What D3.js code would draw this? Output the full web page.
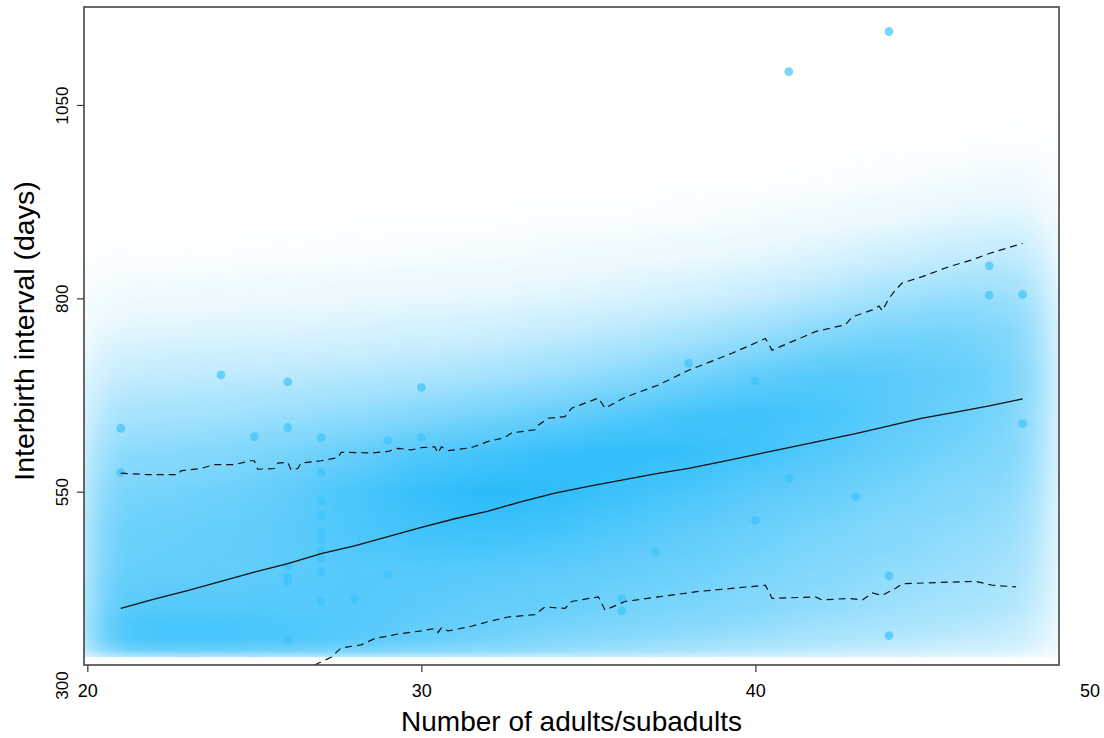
<!DOCTYPE html>
<html>
<head>
<meta charset="utf-8">
<script src="https://d3js.org/d3.v7.min.js"></script>
<style>
    body { margin: 0; background: #fff; }
    text { font-family: "Liberation Sans", Arial, Helvetica, sans-serif; fill: #000; }
</style>
</head>
<body>
<div id="viz"></div>
<script>
// observed interbirth intervals
var pointsX = [21, 21, 24, 25, 26, 26, 26, 26, 26, 26,
    27, 27, 27, 27, 27, 27, 27, 27, 27, 27,
    28, 29, 29, 30, 30, 36, 36, 37, 37, 38, 38, 39,
    40, 40, 40, 41, 41, 43, 44, 44, 44, 47, 47, 48, 48];
var pointsY = [632, 575, 701, 621, 692, 633, 454, 440, 434, 358,
    620, 575, 538, 519, 498, 487, 474, 463, 447, 408,
    411, 616, 443, 685, 620, 412, 396, 585, 472, 716, 629, 616,
    693, 588, 513, 1093, 567, 544, 1145, 441, 364, 842, 804, 805, 638];

// posterior mean prediction
var meanX = [21, 22, 23, 24, 25, 26, 27, 28, 29, 30, 31, 32, 33, 34,
    35, 36, 37, 38, 39, 40, 41, 42, 43, 44, 45, 46, 47, 48];
var meanY = [399, 411, 422, 434, 446, 457, 470, 480, 492, 504, 515, 525, 537, 548,
    557, 565, 573, 580, 589, 598, 607, 616, 625, 635, 645, 653, 661, 670];

// upper quantile (dashed)
var upperX = [21.0, 21.8, 22.7, 22.8, 23.4, 23.8, 24.4, 24.9, 25.0, 25.1, 25.6, 25.7, 26.0, 26.1,
    26.3, 26.4, 27.0, 27.5, 27.6, 28.5, 29.0, 29.3, 29.7, 30.0, 30.4, 30.5, 30.6, 30.8,
    31.5, 32.0, 32.5, 32.7, 33.4, 33.5, 33.8, 34.3, 34.5, 35.3, 35.5, 36.1, 37.1, 38.0,
    39.3, 40.3, 40.5, 41.8, 42.7, 42.9, 43.5, 43.7, 43.8, 44.0, 44.2, 44.4, 45.0, 45.8,
    46.5, 47.0, 48.0];
var upperY = [574, 572, 572, 577, 580, 585, 585, 590, 590, 579, 580, 587, 588, 578,
    580, 587, 590, 594, 601, 600, 602, 606, 604, 607, 608, 600, 608, 603,
    607, 615, 620, 626, 630, 636, 645, 647, 658, 671, 658, 672, 688, 707,
    729, 748, 733, 757, 766, 776, 785, 790, 784, 800, 811, 820, 828, 841,
    850, 858, 871];

// lower quantile (dashed)
var lowerX = [26.8, 27.3, 27.6, 28.2, 28.6, 29.3, 30.0, 30.4, 30.5, 30.6, 30.8, 31.5, 32.0,
    32.6, 33.4, 33.7, 34.3, 34.5, 35.3, 35.5, 36.1, 37.1, 38.3, 39.3, 40.3, 40.5,
    41.8, 42.0, 42.8, 43.2, 43.5, 43.8, 44.2, 44.4, 45.8, 46.6, 47.1, 47.8];
var lowerY = [326, 336, 348, 352, 360, 366, 370, 373, 368, 374, 370, 376, 382,
    388, 391, 401, 399, 408, 414, 397, 408, 414, 421, 425, 429, 412,
    414, 410, 412, 410, 419, 416, 425, 431, 433, 434, 429, 427];

// predictive density shade: one column per x, intensity at each level
var shadeX = [20, 22, 24, 26, 28, 30, 32, 34, 36, 38, 40, 42, 44, 46, 48];
var shadeLevels = [336, 345, 360, 380, 400, 450, 500, 550, 600, 650, 700, 750, 800, 850, 900, 950, 1000, 1050, 1100];
var shadeDensity = [
    [0.30, 0.60, 0.76, 0.78, 0.75, 0.70, 0.68, 0.62, 0.52, 0.40, 0.27, 0.14, 0.06, 0.02, 0, 0, 0, 0, 0],
    [0.35, 0.70, 0.86, 0.86, 0.80, 0.72, 0.70, 0.65, 0.55, 0.42, 0.29, 0.16, 0.07, 0.02, 0, 0, 0, 0, 0],
    [0.35, 0.70, 0.86, 0.86, 0.80, 0.74, 0.72, 0.68, 0.58, 0.44, 0.30, 0.17, 0.08, 0.02, 0, 0, 0, 0, 0],
    [0.35, 0.68, 0.83, 0.83, 0.80, 0.77, 0.77, 0.75, 0.64, 0.48, 0.32, 0.18, 0.08, 0.03, 0, 0, 0, 0, 0],
    [0.33, 0.64, 0.78, 0.80, 0.80, 0.80, 0.84, 0.85, 0.72, 0.52, 0.35, 0.20, 0.10, 0.03, 0.01, 0, 0, 0, 0],
    [0.30, 0.60, 0.72, 0.75, 0.77, 0.80, 0.90, 0.95, 0.82, 0.58, 0.38, 0.22, 0.11, 0.04, 0.01, 0, 0, 0, 0],
    [0.28, 0.55, 0.66, 0.70, 0.73, 0.79, 0.92, 1.00, 0.88, 0.65, 0.42, 0.25, 0.12, 0.05, 0.01, 0, 0, 0, 0],
    [0.26, 0.50, 0.60, 0.66, 0.70, 0.77, 0.88, 0.98, 0.95, 0.72, 0.48, 0.30, 0.15, 0.06, 0.02, 0, 0, 0, 0],
    [0.24, 0.45, 0.55, 0.62, 0.66, 0.73, 0.82, 0.92, 0.98, 0.80, 0.55, 0.35, 0.18, 0.08, 0.02, 0, 0, 0, 0],
    [0.22, 0.40, 0.50, 0.57, 0.62, 0.69, 0.76, 0.85, 0.95, 0.88, 0.65, 0.42, 0.22, 0.10, 0.03, 0.01, 0, 0, 0],
    [0.20, 0.35, 0.45, 0.52, 0.57, 0.64, 0.70, 0.78, 0.88, 0.90, 0.75, 0.50, 0.28, 0.13, 0.05, 0.01, 0, 0, 0],
    [0.17, 0.30, 0.40, 0.46, 0.51, 0.58, 0.64, 0.72, 0.80, 0.86, 0.80, 0.60, 0.36, 0.18, 0.07, 0.02, 0, 0, 0],
    [0.14, 0.26, 0.35, 0.41, 0.46, 0.53, 0.58, 0.65, 0.72, 0.78, 0.78, 0.66, 0.45, 0.25, 0.10, 0.03, 0.01, 0, 0],
    [0.12, 0.22, 0.30, 0.36, 0.41, 0.48, 0.53, 0.58, 0.65, 0.70, 0.72, 0.66, 0.50, 0.30, 0.14, 0.05, 0.01, 0, 0],
    [0.10, 0.18, 0.25, 0.30, 0.35, 0.42, 0.47, 0.52, 0.57, 0.60, 0.62, 0.58, 0.48, 0.32, 0.17, 0.07, 0.02, 0, 0]
];

var xTicks = [20, 30, 40, 50];
var yTicks = [300, 550, 800, 1050];

// set the dimensions and margins of the graph
var margin = { top: 7, right: 45, bottom: 73, left: 84 },
    width = 1104 - margin.left - margin.right,
    height = 738 - margin.top - margin.bottom;

var svg = d3.select("#viz")
    .append("svg")
    .attr("width", 1104)
    .attr("height", 738);

var g = svg.append("g")
    .attr("transform", "translate(" + margin.left + "," + margin.top + ")");

var x = d3.scaleLinear().domain([19.9, 49.09]).range([0, width]);
var y = d3.scaleLinear().domain([325.9, 1176.7]).range([height, 0]);

var defs = svg.append("defs");

defs.append("clipPath")
    .attr("id", "plotclip")
    .append("rect")
    .attr("width", width)
    .attr("height", height);

// horizontal smoothing between shade columns
var blur = defs.append("filter")
    .attr("id", "hblur")
    .attr("filterUnits", "userSpaceOnUse")
    .attr("x", -100).attr("y", -50)
    .attr("width", width + 200).attr("height", height + 100);
blur.append("feGaussianBlur").attr("stdDeviation", "22 0");

var lo = shadeLevels[0], hi = shadeLevels[shadeLevels.length - 1];

// one vertical gradient per column
shadeX.forEach(function (cx, i) {
    var grad = defs.append("linearGradient")
        .attr("id", "shade" + i)
        .attr("gradientUnits", "userSpaceOnUse")
        .attr("x1", 0).attr("x2", 0)
        .attr("y1", y(lo)).attr("y2", y(hi));
    grad.selectAll("stop")
        .data(shadeLevels)
        .enter()
        .append("stop")
        .attr("offset", function (d) { return (d - lo) / (hi - lo); })
        .attr("stop-color", "#2bbcfa")
        .attr("stop-opacity", function (d, j) { return shadeDensity[i][j]; });
});

var plot = g.append("g").attr("clip-path", "url(#plotclip)");

// Draw the shade
plot.append("g")
    .attr("filter", "url(#hblur)")
    .selectAll("rect")
    .data(shadeX)
    .enter()
    .append("rect")
    .attr("x", function (d, i) { return x(i === 0 ? 19.9 : (shadeX[i - 1] + d) / 2); })
    .attr("width", function (d, i) {
        var a = i === 0 ? 19.9 : (shadeX[i - 1] + d) / 2;
        var b = i === shadeX.length - 1 ? 48.8 : (shadeX[i + 1] + d) / 2;
        return x(b) - x(a) + 0.5;
    })
    .attr("y", y(hi))
    .attr("height", y(lo) - y(hi))
    .attr("fill", function (d, i) { return "url(#shade" + i + ")"; });

// Add the points
plot.selectAll("circle")
    .data(pointsX)
    .enter()
    .append("circle")
    .attr("cx", function (d) { return x(d); })
    .attr("cy", function (d, i) { return y(pointsY[i]); })
    .attr("r", 4.4)
    .attr("fill", "#3dc3fb")
    .attr("fill-opacity", 0.68);

var line = d3.line()
    .x(function (d) { return x(d[0]); })
    .y(function (d) { return y(d[1]); });

// Draw the lines
plot.append("path")
    .attr("d", line(d3.zip(upperX, upperY)))
    .attr("fill", "none")
    .attr("stroke", "#111")
    .attr("stroke-width", 1.2)
    .attr("stroke-dasharray", "7,5");

plot.append("path")
    .attr("d", line(d3.zip(lowerX, lowerY)))
    .attr("fill", "none")
    .attr("stroke", "#111")
    .attr("stroke-width", 1.2)
    .attr("stroke-dasharray", "7,5");

plot.append("path")
    .attr("d", line(d3.zip(meanX, meanY)))
    .attr("fill", "none")
    .attr("stroke", "#111")
    .attr("stroke-width", 1.3);

// Add X axis
var xAxis = g.append("g")
    .attr("transform", "translate(0," + height + ")")
    .call(d3.axisBottom(x).tickValues(xTicks).tickSize(7).tickFormat(d3.format("d")));
xAxis.select(".domain").remove();
xAxis.selectAll(".tick line")
    .filter(function (d) { return d < 19.9 || d > 49.09; })
    .remove();
xAxis.selectAll(".tick line").attr("stroke", "#333").attr("stroke-width", 1.2);
xAxis.selectAll(".tick text")
    .attr("y", 32)
    .attr("dy", 0)
    .style("font-size", "18px")
    .style("font-family", "Liberation Sans, Arial, sans-serif");

// Add Y axis
var yAxis = g.append("g")
    .call(d3.axisLeft(y).tickValues(yTicks).tickSize(7).tickFormat(d3.format("d")));
yAxis.select(".domain").remove();
yAxis.selectAll(".tick line")
    .filter(function (d) { return d < 325.9 || d > 1176.7; })
    .remove();
yAxis.selectAll(".tick line").attr("stroke", "#333").attr("stroke-width", 1.2);
yAxis.selectAll(".tick text")
    .attr("transform", "rotate(-90)")
    .attr("x", 0)
    .attr("y", -16)
    .attr("dy", 0)
    .attr("text-anchor", "middle")
    .style("font-size", "17px")
    .style("font-family", "Liberation Sans, Arial, sans-serif");

// box around the plot
g.append("rect")
    .attr("width", width)
    .attr("height", height)
    .attr("fill", "none")
    .attr("stroke", "#444")
    .attr("stroke-width", 1.6);

// Add X axis label
svg.append("text")
    .attr("text-anchor", "middle")
    .attr("x", margin.left + width / 2)
    .attr("y", 731)
    .style("font-size", "28px")
    .text("Number of adults/subadults");

// Add Y axis label
svg.append("text")
    .attr("text-anchor", "middle")
    .attr("transform", "translate(34," + (margin.top + height / 2 - 5) + ") rotate(-90)")
    .style("font-size", "28.5px")
    .text("Interbirth interval (days)");
</script>
</body>
</html>
